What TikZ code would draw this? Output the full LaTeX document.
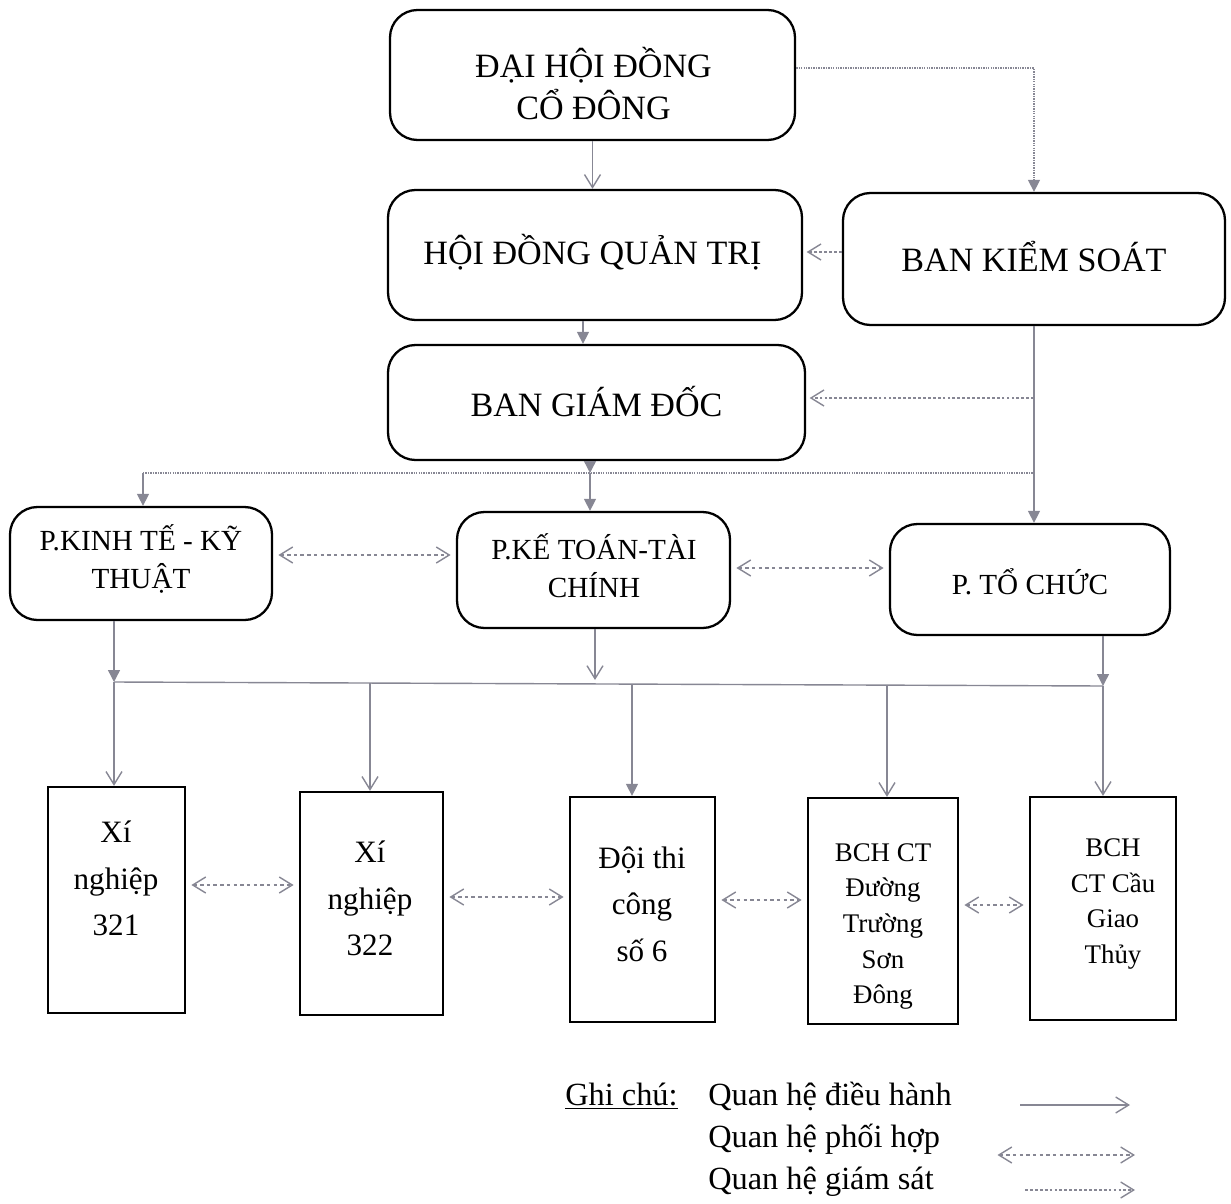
\documentclass[tikz,border=0pt]{standalone}
\usepackage{fontspec}
\setmainfont{Liberation Serif}
\usetikzlibrary{arrows.meta,calc}
\definecolor{lg}{RGB}{135,135,148}
\tikzset{
  rbox/.style={draw=black, line width=1.3pt, rounded corners=0.55cm, inner sep=0pt},
  sbox/.style={draw=black, line width=1.3pt, inner sep=0pt},
  txt/.style={align=center, inner sep=0pt},
  barb/.style={-{Straight Barb[length=2.6mm,width=3.2mm]}},
  tri/.style={-{Triangle[length=2.4mm,width=2.4mm]}},
  exec/.style={draw=lg, line width=0.8pt},
  sup/.style={draw=lg, line width=0.8pt, dash pattern=on 1.6pt off 1.2pt},
  supdot/.style={draw=lg, line width=0.8pt, dash pattern=on 0.8pt off 0.6pt},
  coop/.style={draw=lg, line width=0.8pt, dash pattern=on 2pt off 1.8pt,
    {Straight Barb[length=2.6mm,width=3.2mm]}-{Straight Barb[length=2.6mm,width=3.2mm]},
    shorten <=3pt, shorten >=3pt},
  big/.style={font=\fontsize{19.4}{24.4}\selectfont},
  mid/.style={font=\fontsize{16.6}{21.5}\selectfont},
  xn/.style={font=\fontsize{17.7}{26.4}\selectfont},
  bch/.style={font=\fontsize{15.3}{20.3}\selectfont},
  leg/.style={font=\fontsize{18.4}{24}\selectfont, anchor=west, inner sep=0pt}
}
\begin{document}
\begin{tikzpicture}
\useasboundingbox (0,0) rectangle (24.62,-24.08);
% rounded boxes
\node[rbox, minimum width=8.1cm, minimum height=2.6cm] (dh) at (11.85,-1.5) {};
\node[txt, big] (tdh) at (11.87,-1.67) {ĐẠI HỘI ĐỒNG\\CỔ ĐÔNG};
\node[rbox, minimum width=8.28cm, minimum height=2.6cm] (hd) at (11.9,-5.1) {};
\node[txt, big] (thd) at (11.85,-5.04) {HỘI ĐỒNG QUẢN TRỊ};
\node[rbox, minimum width=7.64cm, minimum height=2.64cm] (bks) at (20.68,-5.18) {};
\node[txt, big] (tbks) at (20.68,-5.14) {BAN KIỂM SOÁT};
\node[rbox, minimum width=8.34cm, minimum height=2.3cm] (bgd) at (11.93,-8.05) {};
\node[txt, big] (tbgd) at (11.93,-8.04) {BAN GIÁM ĐỐC};
\node[rbox, minimum width=5.24cm, minimum height=2.26cm] (pkk) at (2.82,-11.27) {};
\node[txt, mid] (tpkk) at (2.82,-11.18) {P.KINH TẾ - KỸ\\THUẬT};
\node[rbox, minimum width=5.46cm, minimum height=2.32cm] (pktc) at (11.87,-11.4) {};
\node[txt, mid] (tpktc) at (11.88,-11.32) {P.KẾ TOÁN-TÀI\\CHÍNH};
\node[rbox, minimum width=5.6cm, minimum height=2.22cm] (ptc) at (20.6,-11.59) {};
\node[txt, mid] (tptc) at (20.6,-11.64) {P. TỔ CHỨC};
% square boxes
\node[sbox, minimum width=2.74cm, minimum height=4.52cm] (x321) at (2.33,-18.0) {};
\node[txt, xn] (t321) at (2.32,-17.57) {Xí\\nghiệp\\321};
\node[sbox, minimum width=2.86cm, minimum height=4.46cm] (x322) at (7.43,-18.07) {};
\node[txt, xn] (t322) at (7.40,-17.97) {Xí\\nghiệp\\322};
\node[sbox, minimum width=2.9cm, minimum height=4.5cm] (dtc) at (12.85,-18.19) {};
\node[txt, xn] (tdtc) at (12.84,-18.08) {Đội thi\\công\\số 6};
\node[sbox, minimum width=3.0cm, minimum height=4.52cm] (bch1) at (17.66,-18.22) {};
\node[txt, bch] (tbch1) at (17.66,-18.53) {BCH CT\\Đường\\Trường\\Sơn\\Đông};
\node[sbox, minimum width=2.92cm, minimum height=4.46cm] (bch2) at (22.06,-18.17) {};
\node[txt, bch] (tbch2) at (22.26,-18.08) {BCH\\CT Cầu\\Giao\\Thủy};
% top connectors
\draw[exec, barb] (dh.south) -- (dh.south |- hd.north);
\draw[supdot, tri] ($(dh.east)+(0,0.14)$) -| (bks.north);
\draw[sup, barb, shorten >=2pt] (bks.west |- 0,-5.04) -- (hd.east |- 0,-5.04);
\draw[exec, tri] (hd.south -| 11.66,0) -- (bgd.north -| 11.66,0);
\draw[exec, tri] (bks.south) -- (bks.south |- ptc.north);
\coordinate (k1) at (bks.south |- 0,-7.96);
\draw[sup, barb, shorten >=2pt] (k1) -- (k1 -| bgd.east);
% upper bus
\coordinate (uL) at (2.86,-9.46);
\coordinate (uM) at (11.8,-9.46);
\coordinate (uR) at (bks.south |- uL);
\draw[exec, tri] (uM |- bgd.south) -- (uM);
\draw[exec, tri] (uM) -- (uM |- pktc.north);
\draw[supdot] (uL) -- (uR);
\draw[exec, tri] (uL) -- (uL |- pkk.north);
% lower bus
\coordinate (lL) at (2.28,-13.64);
\coordinate (lR) at (22.06,-13.72);
\draw[exec] (lL) -- (lR);
\draw[exec, tri] (pkk.south -| lL) -- (lL);
\draw[exec, barb] (pktc.south -| 11.9,0) -- (11.9,-13.6);
\draw[exec, tri] (ptc.south -| lR) -- (lR);
\draw[exec, barb] (lL) -- (lL |- x321.north);
\coordinate (d2) at (7.4,-13.66);
\draw[exec, barb] (d2) -- (d2 |- x322.north);
\coordinate (d3) at (12.64,-13.68);
\draw[exec, tri] (d3) -- (d3 |- dtc.north);
\coordinate (d4) at (17.74,-13.7);
\draw[exec, barb] (d4) -- (d4 |- bch1.north);
\draw[exec, barb] (lR) -- (lR |- bch2.north);
% coordination
\draw[coop] (pkk.east |- 0,-11.1) -- (pktc.west |- 0,-11.1);
\draw[coop] (pktc.east |- 0,-11.36) -- (ptc.west |- 0,-11.36);
\draw[coop] (x321.east |- 0,-17.7) -- (x322.west |- 0,-17.7);
\draw[coop] (x322.east |- 0,-17.94) -- (dtc.west |- 0,-17.94);
\draw[coop] (dtc.east |- 0,-18.0) -- (bch1.west |- 0,-18.0);
\draw[coop] (bch1.east |- 0,-18.1) -- (bch2.west |- 0,-18.1);
% legend
\node[leg] (gc) at (11.3,-21.92) {\underline{Ghi chú:}};
\node[leg] (l1) at (14.16,-21.92) {Quan hệ điều hành};
\node[leg] (l2) at (14.16,-22.78) {Quan hệ phối hợp};
\node[leg] (l3) at (14.16,-23.64) {Quan hệ giám sát};
\coordinate (a1s) at (20.4,-22.1);
\coordinate (a1e) at (22.6,-22.1);
\draw[exec, barb] (a1s) -- (a1e);
\coordinate (a2s) at (19.95,-23.1);
\coordinate (a2e) at (22.7,-23.1);
\draw[coop, shorten <=0pt, shorten >=0pt] (a2s) -- (a2e);
\coordinate (a3s) at (20.5,-23.8);
\coordinate (a3e) at (22.7,-23.8);
\draw[sup, barb] (a3s) -- (a3e);
\end{tikzpicture}
\end{document}
